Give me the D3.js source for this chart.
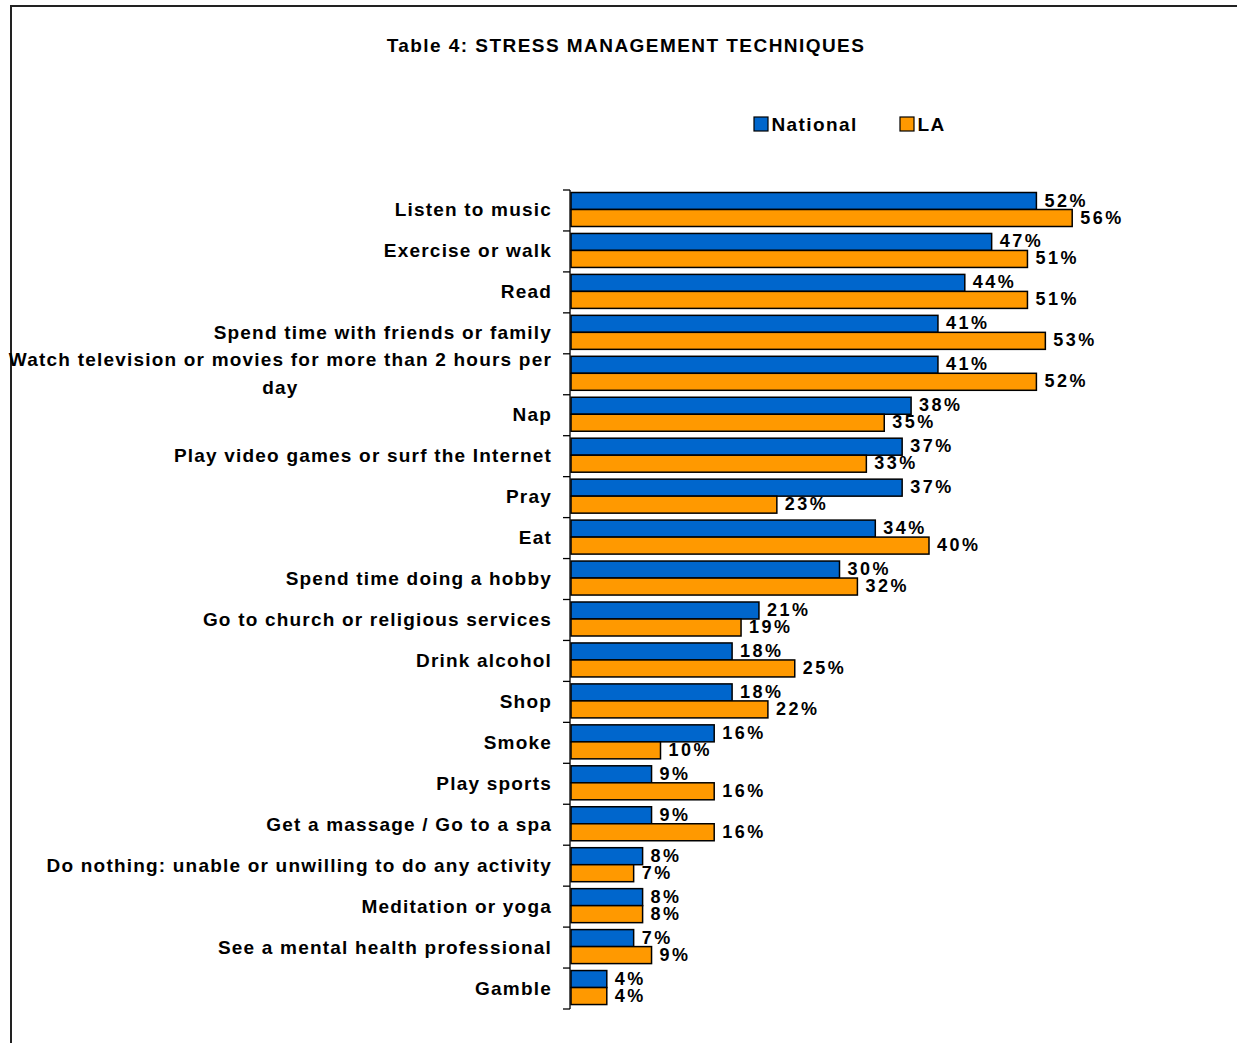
<!DOCTYPE html>
<html>
<head>
<meta charset="utf-8">
<script src="https://cdn.jsdelivr.net/npm/d3@7"></script>
<style>
  html, body { margin: 0; padding: 0; background: #fff; }
  svg { display: block; font-family: "Liberation Sans", Arial, sans-serif; font-weight: bold; }
</style>
</head>
<body>
<svg id="chart" width="1237" height="1043"></svg>
<script>
// Survey answers, percentage of respondents
const categories = [
  "Listen to music",
  "Exercise or walk",
  "Read",
  "Spend time with friends or family",
  "Watch television or movies for more than 2 hours per day",
  "Nap",
  "Play video games or surf the Internet",
  "Pray",
  "Eat",
  "Spend time doing a hobby",
  "Go to church or religious services",
  "Drink alcohol",
  "Shop",
  "Smoke",
  "Play sports",
  "Get a massage / Go to a spa",
  "Do nothing: unable or unwilling to do any activity",
  "Meditation or yoga",
  "See a mental health professional",
  "Gamble"
];
const nationalValues = [52, 47, 44, 41, 41, 38, 37, 37, 34, 30, 21, 18, 18, 16, 9, 9, 8, 8, 7, 4];
const laValues       = [56, 51, 51, 53, 52, 35, 33, 23, 40, 32, 19, 25, 22, 10, 16, 16, 7, 8, 9, 4];
const seriesNames = ["National", "LA"];
const seriesColors = ["#0066CC", "#FF9900"];
const titleText = "Table 4: STRESS MANAGEMENT TECHNIQUES";

const svg = d3.select("#chart");

// outer frame
svg.append("rect")
  .attr("x", 11).attr("y", 6)
  .attr("width", 1300).attr("height", 1100)
  .attr("fill", "none").attr("stroke", "#222").attr("stroke-width", 2);

svg.append("text")
  .attr("x", 626).attr("y", 52)
  .attr("text-anchor", "middle")
  .attr("font-size", 19)
  .attr("letter-spacing", 1.45)
  .text(titleText);

// legend
const legend = svg.append("g");
const legendX = [754, 900];
seriesNames.forEach((name, i) => {
  legend.append("rect")
    .attr("x", legendX[i]).attr("y", 117)
    .attr("width", 14).attr("height", 14)
    .attr("fill", seriesColors[i]).attr("stroke", "#000").attr("stroke-width", 1.2);
  legend.append("text")
    .attr("x", legendX[i] + 17.5).attr("y", 131)
    .attr("font-size", 19)
    .attr("letter-spacing", 1.4)
    .text(name);
});

const plotLeft = 571, plotTop = 190, plotBottom = 1009;

const y = d3.scaleBand()
  .domain(categories)
  .range([plotTop, plotBottom])
  .paddingInner(0)
  .paddingOuter(0);

const x = d3.scaleLinear().domain([0, 60]).range([plotLeft, plotLeft + 537]);

const barH = 17;
const barOffset = 2.5;

// category axis with outward ticks at band boundaries
const axisG = svg.append("g");
axisG.append("line")
  .attr("x1", plotLeft - 1).attr("x2", plotLeft - 1)
  .attr("y1", plotTop).attr("y2", plotBottom)
  .attr("stroke", "#000").attr("stroke-width", 1.3);
const bounds = categories.map(c => y(c)).concat([plotBottom]);
axisG.selectAll("line.tick").data(bounds).join("line")
  .attr("class", "tick")
  .attr("x1", plotLeft - 8).attr("x2", plotLeft - 1)
  .attr("y1", d => d).attr("y2", d => d)
  .attr("stroke", "#000").attr("stroke-width", 1.3);

// category labels, wrapped when too long
const labelG = svg.append("g");
const labelRight = 552;
const maxLabelWidth = 560;
categories.forEach(c => {
  const t = labelG.append("text")
    .attr("x", labelRight)
    .attr("text-anchor", "end")
    .attr("font-size", 19)
    .attr("letter-spacing", 1.2)
    .attr("fill", "#000");
  const words = c.split(" ");
  const lines = [];
  let line = [];
  const probe = t.append("tspan");
  words.forEach(w => {
    const trial = line.concat([w]).join(" ");
    probe.text(trial);
    if (probe.node().getComputedTextLength() > maxLabelWidth && line.length) {
      lines.push(line.join(" "));
      line = [w];
    } else {
      line.push(w);
    }
  });
  lines.push(line.join(" "));
  probe.remove();
  const lh = 28;
  const cy = y(c) + y.bandwidth() / 2 + 6 - (lines.length - 1) * lh / 2;
  lines.forEach((l, i) => {
    t.append("tspan")
      .attr("x", labelRight)
      .attr("y", cy + i * lh)
      .text(l);
  });
  if (lines.length > 1) {
    // wrapped lines are centred on the widest line
    const w0 = t.node().getBBox().width;
    const center = labelRight - w0 / 2;
    t.attr("text-anchor", "middle");
    t.selectAll("tspan").attr("x", center);
  }
});

// bars and value labels
const series = [nationalValues, laValues];
series.forEach((vals, si) => {
  const g = svg.append("g");
  g.selectAll("rect").data(categories).join("rect")
    .attr("x", plotLeft)
    .attr("y", (c) => y(c) + barOffset + si * barH)
    .attr("width", (c, i) => x(vals[i]) - plotLeft)
    .attr("height", barH)
    .attr("fill", seriesColors[si])
    .attr("stroke", "#000")
    .attr("stroke-width", 1.5);
  g.selectAll("text").data(categories).join("text")
    .attr("x", (c, i) => x(vals[i]) + 8)
    .attr("y", (c) => y(c) + barOffset + si * barH + barH / 2 + 5.5)
    .attr("font-size", 18)
    .attr("letter-spacing", 2.5)
    .attr("fill", "#000")
    .text((c, i) => vals[i] + "%");
});
</script>
</body>
</html>
